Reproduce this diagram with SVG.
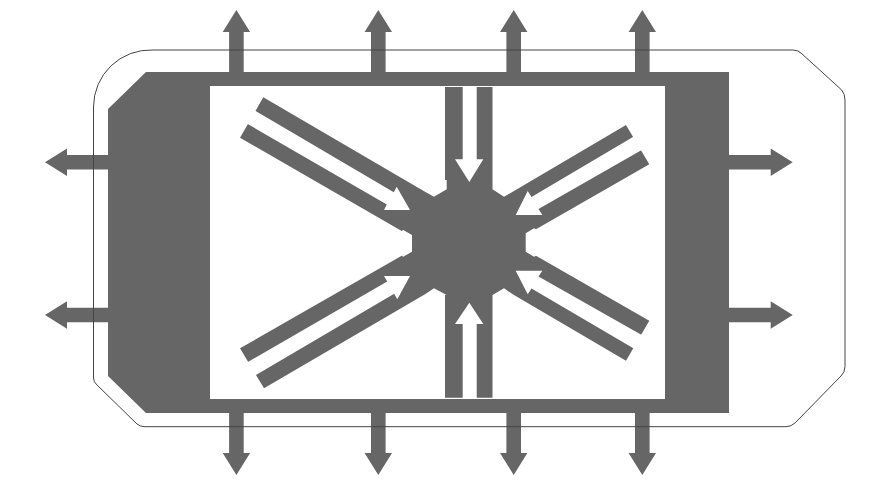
<svg xmlns="http://www.w3.org/2000/svg" width="877" height="483" viewBox="0 0 877 483">
  <style>
    .g{fill:#666}
    .w{fill:#fff}
    .o{fill:none;stroke:#444;stroke-width:1}
  </style>
  <defs>
    <polygon id="pin-up" class="g" points="-7.3,0 -7.3,-40 -13.7,-40 0,-62 13.7,-40 7.3,-40 7.3,0"/>
    <polygon id="pin-right" class="g" points="0,-7.3 41.7,-7.3 41.7,-13.8 63.7,0 41.7,13.8 41.7,7.3 0,7.3"/>
  </defs>
  <rect width="877" height="483" fill="#fff"/>
  <g id="pins">
    <use href="#pin-up" x="236.4" y="72"/>
    <use href="#pin-up" x="378.3" y="72"/>
    <use href="#pin-up" x="513.7" y="72"/>
    <use href="#pin-up" x="642.3" y="72"/>
    <use href="#pin-up" transform="translate(236.4 413) scale(1 -1)"/>
    <use href="#pin-up" transform="translate(378.3 413) scale(1 -1)"/>
    <use href="#pin-up" transform="translate(513.7 413) scale(1 -1)"/>
    <use href="#pin-up" transform="translate(642.3 413) scale(1 -1)"/>
    <use href="#pin-right" x="729" y="162.3"/>
    <use href="#pin-right" x="729" y="315"/>
    <use href="#pin-right" transform="translate(108.7 162.3) scale(-1 1)"/>
    <use href="#pin-right" transform="translate(108.7 315) scale(-1 1)"/>
  </g>
  <path id="frame" class="g" fill-rule="evenodd" d="M146,72H729V413H146L108,376V109ZM210,86V399H665V86Z"/>
  <g id="hub">
    <polygon class="g" points="445,87 492.5,87 492.5,189.3 504,196.7 512.7,191.7 626,125 649.3,164.3 536,229.3 534,228.3 525.7,233.3 525.7,251.7 534,256.7 536,255.7 649.3,320.7 626,360.7 512.7,294.3 504,288.3 492.5,295 492.5,397.7 445,397.7 445,295 446.7,295 434,288.3 425,294.3 264,388.3 240,348.3 401.7,255.7 403.3,256.7 412,251.7 412,235 403.3,230 401.7,231 240,137.7 263.3,97.3 425,191.7 434,196.7 446.7,189.3 446.7,180 445,180"/>
  </g>
  <g id="flows">
    <polygon class="w" points="462.7,86.5 476.7,86.5 476.7,159.3 483.3,159.3 469.3,182 455,159.3 462.7,159.3"/>
    <polygon class="w" points="462.7,398.5 476.7,398.5 476.7,324 483.3,324 469.3,302.7 455,324 462.7,324"/>
    <polygon class="w" points="254.8,110.5 393.8,192.2 396.7,186.7 410,210 384,210 386.8,204.4 246.8,123.5"/>
    <polygon class="w" points="247.4,362.2 387.2,281.6 384,276 410,276 397.3,299.3 394.2,293.8 255.1,375.5"/>
    <polygon class="w" points="634.2,136.2 531.5,196.9 527.7,191 515.7,215 542.3,215 538.5,209.1 642.6,149.5"/>
    <polygon class="w" points="642.6,335.5 538.5,276.4 542.3,270.7 515.7,270.7 527.7,294.3 531.5,288.6 634.2,348.8"/>
  </g>
  <path id="outline" class="o" d="M153,50H793Q798,50 801,53L841.7,90Q845,94 845,100V366.7Q845,372 841,376L795,423Q791,426.7 786,426.7H145Q140,426.7 137,424L97,385Q93.5,382 93.5,378V107A57,57 0 0 1 153,50Z"/>
</svg>
